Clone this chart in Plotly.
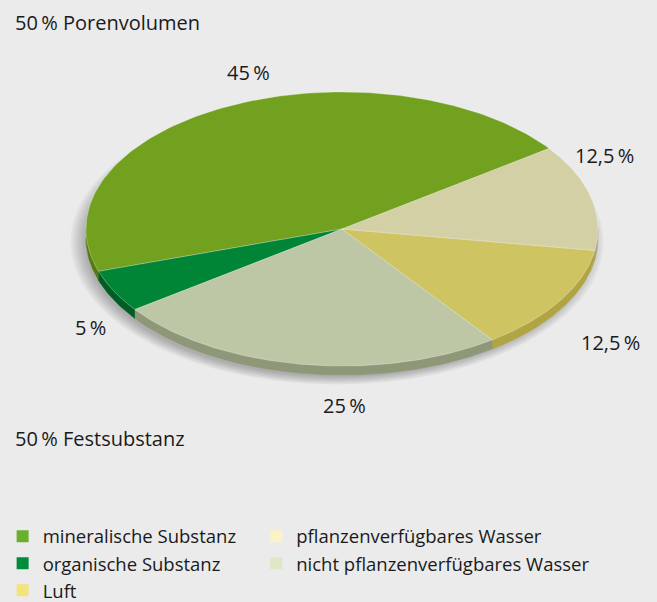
import numpy as np
import plotly.graph_objects as go

# data
categories = ["mineralische Substanz", "organische Substanz",
              "nicht pflanzenverfügbares Wasser", "Luft",
              "pflanzenverfügbares Wasser"]
values = [45, 5, 25, 12.5, 12.5]
value_labels = ["45\u2009%", "5\u2009%", "25\u2009%", "12,5\u2009%", "12,5\u2009%"]

top_colors = ["#72a01f", "#008435", "#bdc7a6", "#cec462", "#d4d0a6"]
side_colors = ["#557a12", "#005e24", "#8e9878", "#b0a542", "#aaa682"]
legend_colors = ["#6ab02e", "#008c3a", "#dfe8c6", "#f2e37a", "#f9f3c6"]
legend_col1 = [0, 1, 3]
legend_col2 = [4, 2]

# geometry (pixel-like axis units)
cx, cy, rx, ry, depth = 342, 229, 256, 137, 9
start = 36.0

fig = go.Figure()


def arc(a0, a1, dy=0, n=120):
    t = np.radians(np.linspace(a0, a1, n))
    return cx + rx * np.cos(t), cy - ry * np.sin(t) + dy


# soft shadow
for i in range(8):
    s = 0.985 + 0.008 * i
    t = np.radians(np.linspace(0, 360, 200))
    fig.add_trace(go.Scatter(
        x=cx - 5 + rx * s * np.cos(t), y=cy + 13 + ry * s * np.sin(t),
        fill="toself", mode="lines", line=dict(width=0),
        fillcolor="rgba(0,0,0,0.035)", hoverinfo="skip", showlegend=False))

# slice angles
total = sum(values)
bounds = [start]
for v in values:
    bounds.append(bounds[-1] + v / total * 360)

# side walls (front half only)
for i, v in enumerate(values):
    a0, a1 = bounds[i], bounds[i + 1]
    for off in (0, 360):
        lo, hi = max(a0, 180 + off), min(a1, 360 + off)
        if hi <= lo:
            continue
        xt, yt = arc(lo, hi)
        xb, yb = arc(hi, lo, depth)
        fig.add_trace(go.Scatter(
            x=np.concatenate([xt, xb]), y=np.concatenate([yt, yb]),
            fill="toself", mode="lines",
            line=dict(color=side_colors[i], width=0.6),
            fillcolor=side_colors[i], hoverinfo="skip", showlegend=False))

# top faces
for i, v in enumerate(values):
    xa, ya = arc(bounds[i], bounds[i + 1])
    fig.add_trace(go.Scatter(
        x=np.concatenate([[cx], xa, [cx]]), y=np.concatenate([[cy], ya, [cy]]),
        fill="toself", mode="lines",
        line=dict(color="rgba(255,255,255,0.35)", width=0.8),
        fillcolor=top_colors[i], name=categories[i],
        hoverinfo="name", showlegend=False))

# legend entries, two columns -> two legends
for lg, idx in (("legend", legend_col1), ("legend2", legend_col2)):
    for i in idx:
        fig.add_trace(go.Scatter(
            x=[None], y=[None], mode="markers", name=categories[i],
            marker=dict(symbol="square", size=15, color=legend_colors[i]),
            showlegend=True, legend=lg))

font = dict(family="Open Sans, Noto Sans, sans-serif", size=20, color="#1a1a1a")

label_pos = [(248, 72), (90, 327), (344, 405), (610, 342), (604, 155)]
for (lx, ly), txt in zip(label_pos, value_labels):
    fig.add_annotation(x=lx, y=ly, text=txt, showarrow=False, font=font,
                       xanchor="center", yanchor="middle")

fig.add_annotation(x=13, y=22, text="50\u2009% Porenvolumen", showarrow=False,
                   font=font, xanchor="left", yanchor="middle")
fig.add_annotation(x=13, y=438, text="50\u2009% Festsubstanz", showarrow=False,
                   font=font, xanchor="left", yanchor="middle")

leg = dict(yanchor="top", xanchor="left", y=0.14,
           font=dict(font, size=18.5), bgcolor="rgba(0,0,0,0)", tracegroupgap=0,
           itemsizing="constant")

fig.update_layout(
    width=657, height=602,
    margin=dict(l=0, r=0, t=0, b=0, autoexpand=False),
    paper_bgcolor="#ebebeb", plot_bgcolor="#ebebeb",
    xaxis=dict(range=[0, 657], visible=False, fixedrange=True),
    yaxis=dict(range=[602, 0], visible=False, fixedrange=True),
    legend=dict(leg, x=0.004),
    legend2=dict(leg, x=0.39),
    showlegend=True,
)

fig.write_html("out.html", config={"displayModeBar": False},
               post_script="document.body.style.margin='0';")
